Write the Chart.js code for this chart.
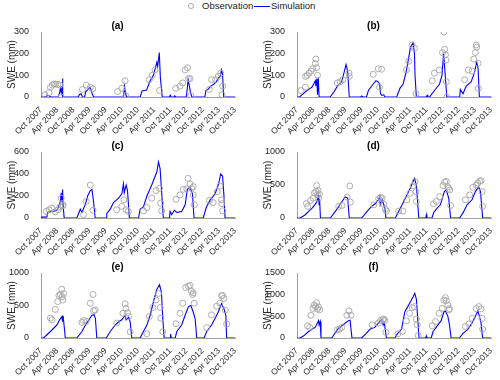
<!DOCTYPE html>
<html>
<head>
<meta charset="utf-8">
<script src="https://cdn.jsdelivr.net/npm/chart.js@4"></script>
<style>
  body { margin: 0; background: #fff; }
  #wrap { position: relative; width: 500px; height: 380px; font-family: Arial, "Liberation Sans", sans-serif; color: #222; }
  #wrap canvas { position: absolute; }
  .lg { position: absolute; font-size: 9.5px; line-height: 12px; top: 0; }
</style>
</head>
<body>
<div id="wrap">
  <span style="position:absolute;left:188px;top:3px;width:4px;height:4px;border:1px solid #aaa;border-radius:50%"></span>
  <span class="lg" style="left:202px">Observation</span>
  <span style="position:absolute;left:254px;top:6px;width:16px;border-top:1.2px solid #0000ff"></span>
  <span class="lg" style="left:271px">Simulation</span>

  <canvas id="ca" width="250" height="125" style="left:0;top:12px"></canvas>
  <canvas id="cb" width="250" height="125" style="left:250px;top:12px"></canvas>
  <canvas id="cc" width="250" height="126" style="left:0;top:132px"></canvas>
  <canvas id="cd" width="250" height="126" style="left:250px;top:132px"></canvas>
  <canvas id="ce" width="250" height="125" style="left:0;top:253px"></canvas>
  <canvas id="cf" width="250" height="125" style="left:250px;top:253px"></canvas>
</div>
<script>
// x values are months since Oct 2007
const tickLabels = ['Oct 2007', 'Apr 2008', 'Oct 2008', 'Apr 2009', 'Oct 2009', 'Apr 2010', 'Oct 2010',
  'Apr 2011', 'Oct 2011', 'Apr 2012', 'Oct 2012', 'Apr 2013', 'Oct 2013'];
const panelTitles = ['(a)', '(b)', '(c)', '(d)', '(e)', '(f)'];
const yMaxes = [300, 300, 600, 1000, 1000, 1500];
const ySteps = [100, 100, 200, 500, 500, 500];

// simulated SWE (mm)
const simA = [[0,0],[1.8,0],[2.3,8],[3.0,6],[3.6,0],[6.4,0],[6.8,15],[7.2,40],[7.5,20],[7.8,50],[8.0,85],[8.1,0],
  [13.8,0],[14.3,12],[14.9,15],[15.4,0],[16.2,0],[16.6,25],[17.5,35],[18.2,45],[18.6,30],[19.0,15],[19.5,0],
  [30.6,0],[31.0,50],[31.3,20],[31.5,10],[31.8,0],
  [36.8,0],[37.5,28],[39.2,32],[40.5,75],[41.7,100],[43.0,160],[43.3,140],[43.9,205],[44.3,90],[45.0,0],
  [47.6,0],[48.0,8],[48.3,0],[49.3,0],[49.6,5],[50.0,0],[53.9,0],[54.3,40],[54.6,80],[55.0,55],[55.5,20],[56.0,0],
  [60.8,0],[61.2,30],[62.0,35],[63.0,50],[64.2,60],[65.0,70],[66.0,90],[66.5,95],[67.0,125],[67.4,100],[67.8,0],
  [72,0]];
const simB = [[0,0],[1.0,0],[1.8,10],[3.7,30],[4.9,40],[5.5,45],[6.2,60],[6.8,75],[7.0,50],[7.4,85],[7.6,10],[7.9,90],[8.2,0],
  [12.3,0],[13.5,20],[15.0,50],[16.6,70],[17.2,100],[18.2,150],[18.8,120],[19.4,0],
  [23.6,0],[24.0,5],[24.4,0],[25.8,0],[26.5,30],[28.3,60],[29.3,75],[30.1,70],[30.7,60],[31.0,15],[31.5,8],[32.2,10],[32.6,0],
  [37.0,0],[38.2,40],[39.4,60],[40.6,120],[41.3,170],[42.1,230],[43.1,250],[43.6,200],[43.8,100],[44.3,0],
  [48.0,0],[48.3,8],[48.6,0],[49.2,0],[51.0,30],[52.9,60],[53.8,100],[54.4,200],[54.9,120],[55.6,0],
  [60.4,0],[60.6,35],[61.6,15],[62.8,50],[64.6,70],[65.8,110],[66.7,160],[67.2,130],[67.7,0],
  [72,0]];
const simC = [[0,8],[1.5,8],[2.2,10],[2.4,50],[4.0,60],[5.3,65],[5.9,75],[6.5,100],[7.2,150],[7.5,230],[7.8,150],[8.0,260],[8.2,120],[8.6,0],
  [13.3,0],[14.6,80],[15.2,50],[16.4,120],[17.3,200],[18.3,250],[18.9,260],[19.5,150],[20.1,0],
  [24.2,0],[24.4,40],[25.7,80],[26.9,140],[28.8,180],[30.0,220],[30.6,310],[30.9,230],[31.6,300],[32.1,250],[32.8,0],
  [36.2,0],[36.8,80],[38.0,100],[39.3,200],[41.1,300],[43.0,420],[43.6,510],[44.2,450],[44.6,300],[45.4,0],
  [47.7,0],[47.9,60],[48.5,30],[49.5,70],[50.4,50],[52.2,60],[53.5,120],[54.3,260],[55.3,280],[56.2,220],[56.8,0],
  [60.2,0],[61.4,100],[62.7,160],[64.6,220],[65.8,300],[66.7,400],[67.4,380],[67.9,200],[68.3,0],
  [72,0]];
const simD = [[0,0],[1.2,0],[3.1,50],[4.3,100],[5.6,150],[6.6,200],[7.4,250],[8.0,330],[8.2,200],[8.4,280],[8.7,0],
  [12.4,0],[14.2,100],[15.1,150],[16.7,250],[17.9,320],[18.8,300],[19.4,0],
  [24.0,0],[26.0,100],[27.8,180],[29.1,220],[30.3,280],[30.7,330],[30.9,200],[31.6,280],[32.6,150],[33.0,0],
  [36.5,0],[37.7,100],[39.0,200],[40.8,350],[42.0,450],[43.6,600],[44.3,500],[45.2,0],
  [47.8,0],[48.0,50],[48.2,0],[50.1,0],[50.7,80],[52.0,150],[53.2,200],[54.7,400],[55.4,430],[56.3,300],[57.0,0],
  [60.4,0],[61.9,100],[63.1,200],[65.0,280],[66.2,400],[67.4,470],[68.1,400],[68.9,0],
  [72,0]];
const simE = [[0,0],[1.0,0],[2.2,50],[3.5,100],[4.7,150],[5.9,200],[6.9,280],[7.8,330],[8.0,250],[8.2,340],[8.8,100],[9.0,0],
  [13.3,0],[15.2,100],[15.8,150],[17.3,250],[18.9,350],[19.7,360],[20.2,300],[20.7,0],
  [24.2,0],[25.7,100],[27.5,200],[28.8,250],[30.0,280],[31.2,350],[31.6,280],[32.5,320],[33.1,250],[33.7,0],
  [36.8,0],[38.0,100],[39.3,200],[40.5,350],[42.0,600],[43.0,750],[44.0,820],[44.7,700],[45.2,300],[45.7,0],
  [47.9,0],[48.1,60],[48.3,0],[49.8,0],[50.4,100],[52.2,200],[53.5,350],[54.7,480],[55.6,500],[56.5,400],[57.2,300],[57.8,0],
  [60.5,0],[61.5,100],[63.3,200],[64.6,300],[65.8,400],[67.0,530],[67.9,450],[68.6,350],[68.9,0],
  [72,0]];
const simF = [[0,0],[1.2,0],[2.5,50],[4.3,150],[5.5,200],[6.8,250],[8.0,400],[8.2,300],[8.6,380],[8.9,0],
  [12.9,0],[15.0,200],[17.0,300],[19.1,400],[19.7,410],[20.4,0],
  [24.0,0],[25.6,100],[27.1,200],[29.0,250],[30.2,350],[30.8,380],[31.4,420],[32.0,300],[32.4,350],[33.2,0],
  [36.3,0],[37.3,100],[38.8,200],[40.0,600],[41.8,800],[43.1,950],[43.7,1030],[44.3,900],[45.3,0],
  [47.8,0],[48.0,50],[48.3,0],[49.8,0],[50.5,150],[51.7,250],[53.5,400],[54.5,600],[55.1,620],[56.0,500],[56.6,300],[57.2,0],
  [60.3,0],[61.5,100],[63.4,200],[65.0,350],[66.2,500],[67.1,620],[67.7,500],[68.3,350],[68.9,0],
  [72,0]];

// observed SWE (mm)
const obsA = [[1.5,10],[3.0,20],[3.5,45],[4.2,55],[4.8,60],[5.5,60],[6.2,58],[7.0,55],[7.5,0],
  [15.4,35],[16.8,55],[18.3,45],[19.2,38],
  [28.4,25],[30.0,40],[31.2,75],[31.5,5],
  [40.2,80],[41.3,100],[42.3,125],[44.0,30],
  [50.0,40],[51.6,50],[52.6,65],[53.5,125],[54.4,135],[54.7,85],[55.3,85],[55.6,5],
  [62.5,35],[63.3,80],[64.8,80],[65.8,95],[66.7,110],[67.4,50],[67.2,10]];
const obsB = [[1.5,30],[3.1,45],[3.2,95],[3.8,100],[4.5,110],[5.2,120],[5.8,130],[6.8,155],[7.0,175],[7.3,135],[7.6,100],
  [15.0,65],[16.0,70],[17.0,80],[19.3,110],[19.4,95],
  [28.3,105],[30.2,130],[31.4,128],[30.6,45],
  [40.6,125],[41.5,165],[42.7,240],[43.6,225],[44.2,15],
  [50.2,75],[51.0,110],[52.7,125],[54.0,205],[54.5,300],[54.8,220],[55.1,195],[55.3,170],[55.4,70],[55.6,0],
  [62.2,80],[63.6,125],[65.0,120],[65.6,175],[66.2,205],[66.5,240],[66.7,230],[67.2,155],[67.3,40]];
const obsC = [[2.0,60],[3.0,75],[4.0,90],[5.3,55],[6.3,75],[7.0,100],[7.5,180],[8.0,110],[8.2,120],
  [15.8,30],[16.8,150],[18.3,300],[19.3,70],
  [28.1,75],[30.0,105],[30.8,165],[31.6,75],[32.4,60],
  [38.0,65],[39.3,95],[41.1,180],[42.7,250],[44.0,270],[44.4,135],[44.8,65],
  [50.1,170],[51.6,210],[52.8,260],[54.1,265],[54.6,360],[55.3,310],[55.9,270],[56.5,285],[56.5,210],[56.9,120],
  [62.5,160],[63.9,140],[65.4,240],[66.4,290],[67.0,165],[67.1,130],[67.4,65]];
const obsD = [[3.5,220],[4.0,175],[5.0,265],[6.0,300],[6.5,380],[7.0,400],[7.3,490],[7.6,350],[7.8,420],[8.0,300],[8.3,360],
  [15.5,175],[16.7,190],[18.6,315],[19.6,485],[19.8,240],
  [28.5,200],[30.3,290],[31.0,310],[31.6,300],[32.2,210],[32.8,130],[33.2,105],
  [37.7,105],[39.3,105],[40.8,275],[42.0,375],[43.1,490],[43.8,550],[44.3,250],[44.2,400],
  [50.7,215],[51.7,250],[53.0,325],[54.2,490],[54.8,545],[55.4,555],[55.9,475],[56.3,450],[56.7,425],[57.0,190],
  [62.5,275],[64.1,350],[65.3,465],[66.6,500],[67.1,530],[67.8,555],[68.3,565],[68.7,400],[68.9,175]];
const obsE = [[3.5,305],[4.1,280],[5.3,440],[6.2,560],[6.7,655],[7.2,670],[7.7,750],[7.9,635],[8.1,585],[8.4,685],
  [15.2,240],[15.8,270],[16.8,255],[18.3,535],[19.3,670],[19.5,420],[20.1,430],
  [28.1,230],[30.4,380],[31.2,525],[31.5,455],[32.1,390],[32.5,330],[33.1,95],
  [39.3,65],[40.2,330],[41.5,470],[42.7,585],[43.6,685],[44.2,470],[44.5,305],[45.2,95],
  [50.1,220],[51.6,380],[52.6,535],[53.7,775],[54.7,795],[55.3,810],[55.8,720],[56.3,670],[56.5,695],[56.9,535],
  [61.5,160],[63.3,355],[65.2,490],[66.4,535],[67.0,650],[67.4,655],[67.9,610],[68.4,430],[68.9,215]];
const obsF = [[3.9,280],[4.7,245],[5.2,525],[5.9,685],[6.4,760],[6.9,725],[7.3,815],[7.6,665],[8.0,715],[8.4,650],
  [15.0,190],[15.8,205],[16.6,245],[18.5,525],[19.3,625],[20.1,525],
  [27.9,305],[30.2,345],[31.0,405],[31.8,420],[32.2,440],[32.6,405],[33.0,130],
  [37.5,100],[39.1,150],[40.6,395],[41.8,570],[42.8,700],[43.6,725],[44.3,435],[44.6,305],[45.0,55],
  [50.2,280],[51.4,380],[52.7,570],[53.9,685],[54.5,875],[55.1,930],[55.4,860],[56.0,760],[56.4,650],[56.6,680],
  [62.5,265],[63.8,320],[65.0,455],[66.5,680],[67.5,725],[68.3,670],[68.7,455],[68.9,205]];

const sims = [simA, simB, simC, simD, simE, simF];
const obss = [obsA, obsB, obsC, obsD, obsE, obsF];
const canvasIds = ['ca', 'cb', 'cc', 'cd', 'ce', 'cf'];
const plotHeights = [65, 65, 66, 66, 65, 65];

Chart.defaults.font.family = 'Arial, "Liberation Sans", sans-serif';
Chart.defaults.font.size = 9;
Chart.defaults.color = '#262626';

const toXY = arr => arr.map(p => ({ x: p[0], y: p[1] }));

function makePanel(i) {
  const canvas = document.getElementById(canvasIds[i]);
  const rightCol = i % 2 === 1;
  const xAxisH = canvas.height - 20 - plotHeights[i];

  new Chart(canvas, {
    type: 'scatter',
    data: {
      datasets: [{
        label: 'Observation',
        data: toXY(obss[i]),
        showLine: false,
        pointStyle: 'circle',
        pointRadius: 3,
        borderColor: '#a6a6a6',
        backgroundColor: 'rgba(0,0,0,0)',
        borderWidth: 0.9
      }, {
        label: 'Simulation',
        data: toXY(sims[i]),
        showLine: true,
        pointRadius: 0,
        borderColor: '#0000ff',
        borderWidth: 1.1,
        tension: 0
      }]
    },
    options: {
      responsive: false,
      animation: false,
      layout: { padding: { left: rightCol ? 6 : 0, right: rightCol ? 9 : 15, top: 0, bottom: 0 } },
      plugins: {
        legend: { display: false },
        tooltip: { enabled: false },
        title: {
          display: true,
          text: panelTitles[i],
          font: { size: 10, weight: 'bold' },
          color: '#000',
          padding: { top: 8, bottom: 0 }
        }
      },
      scales: {
        x: {
          type: 'linear',
          min: 0,
          max: 72,
          grid: { display: false },
          border: { display: true, color: '#a0a0a0', width: 1 },
          ticks: {
            stepSize: 6,
            autoSkip: false,
            maxRotation: 45,
            minRotation: 45,
            padding: 0,
            font: { size: 8.5 },
            callback: v => tickLabels[v / 6]
          },
          afterFit: s => { s.height = xAxisH; }
        },
        y: {
          min: 0,
          max: yMaxes[i],
          grid: { display: false },
          border: { display: true, color: '#a0a0a0', width: 1 },
          ticks: { stepSize: ySteps[i], padding: 4, callback: v => String(v) },
          title: { display: true, text: 'SWE (mm)', font: { size: 10 }, padding: { top: 6, bottom: 0 } },
          afterFit: s => { s.width = 41; }
        }
      }
    }
  });
}

for (let i = 0; i < 6; i++) makePanel(i);
</script>
</body>
</html>
